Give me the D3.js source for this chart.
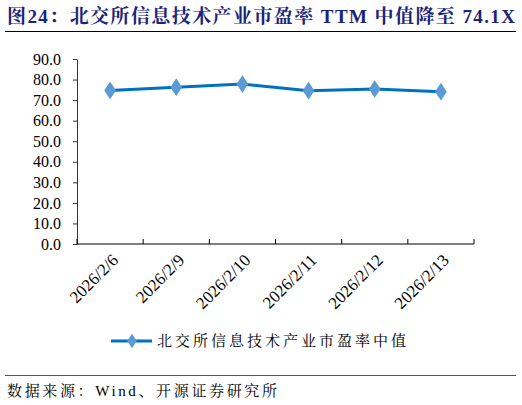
<!DOCTYPE html>
<html>
<head>
<meta charset="utf-8">
<script src="https://cdn.jsdelivr.net/npm/d3@7"></script>
<style>
  body { margin: 0; background: #fff; }
</style>
</head>
<body>
<div class="main"></div>
<script>
// Données
const dates = ['2026/2/6', '2026/2/9', '2026/2/10', '2026/2/11', '2026/2/12', '2026/2/13'];
const valeurs = [74.7, 76.3, 77.8, 74.6, 75.4, 74.1];
const yTicks = [0, 10, 20, 30, 40, 50, 60, 70, 80, 90];
const titre = '图24：北交所信息技术产业市盈率 TTM 中值降至 74.1X';
const serie = '北交所信息技术产业市盈率中值';
const source = '数据来源：Wind、开源证券研究所';

const width = 522;
const height = 405;
const margin = { top: 59, right: 48, bottom: 161, left: 77 };

const serif = "'Liberation Serif', 'Times New Roman', serif";
const cjk = "'Noto Serif CJK SC', 'Noto Sans CJK SC', serif";

const svg = d3.select('.main')
  .append('svg')
  .attr('width', width)
  .attr('height', height)
  .style('font-family', serif);

// Titre
svg.append('text')
  .attr('x', 7)
  .attr('y', 23)
  .attr('textLength', 508)
  .attr('lengthAdjust', 'spacing')
  .style('font-family', `${serif}, ${cjk}`)
  .style('font-weight', 'bold')
  .style('font-size', '19px')
  .style('fill', '#1B237A')
  .text(titre);

svg.append('line')
  .attr('x1', 5).attr('x2', 516)
  .attr('y1', 31.5).attr('y2', 31.5)
  .attr('stroke', '#000').attr('stroke-width', 1);

// Échelles
const x = d3.scaleBand()
  .domain(dates)
  .range([margin.left, width - margin.right]);

const y = d3.scaleLinear()
  .domain([0, 90])
  .range([height - margin.bottom, margin.top]);

// Axe vertical
svg.append('g')
  .attr('transform', `translate(${margin.left}, 0)`)
  .call(d3.axisLeft(y).tickValues(yTicks).tickSize(4).tickSizeOuter(0).tickPadding(12).tickFormat(d3.format('.1f')))
  .call(g => g.selectAll('text').style('font-size', '16px').style('font-family', serif).attr('fill', '#000'))
  .call(g => g.selectAll('line,path').attr('stroke', '#333'));

// Axe horizontal
const xAxis = svg.append('g')
  .attr('transform', `translate(0, ${y(0)})`);

xAxis.append('line')
  .attr('x1', margin.left).attr('x2', width - margin.right)
  .attr('stroke', '#000');

xAxis.selectAll('.tick')
  .data(dates.concat(['fin']))
  .enter()
  .append('line')
  .attr('x1', d => d === 'fin' ? width - margin.right : x(d))
  .attr('x2', d => d === 'fin' ? width - margin.right : x(d))
  .attr('y1', 0).attr('y2', -5)
  .attr('stroke', '#000');

xAxis.selectAll('text')
  .data(dates)
  .enter()
  .append('text')
  .attr('transform', d => `translate(${x(d) + x.bandwidth() / 2 + 5}, 13) rotate(-45)`)
  .attr('text-anchor', 'end')
  .attr('dy', '0.35em')
  .style('font-size', '17px')
  .text(d => d);

// Ligne
const ligne = d3.line()
  .x((d, i) => x(dates[i]) + x.bandwidth() / 2)
  .y(d => y(d));

svg.append('path')
  .datum(valeurs)
  .attr('fill', 'none')
  .attr('stroke', '#0070C0')
  .attr('stroke-width', 3)
  .attr('d', ligne);

const diamant = d3.symbol().type(d3.symbolDiamond).size(90);

svg.append('g')
  .selectAll('path')
  .data(valeurs)
  .enter()
  .append('path')
  .attr('d', diamant)
  .attr('transform', (d, i) => `translate(${x(dates[i]) + x.bandwidth() / 2}, ${y(d)}) scale(1.15, 1)`)
  .attr('fill', '#5B9BD5');

// Légende
const leg = svg.append('g').attr('transform', 'translate(0, 341)');
leg.append('line')
  .attr('x1', 111).attr('x2', 152)
  .attr('stroke', '#0070C0').attr('stroke-width', 3);
leg.append('path')
  .attr('d', d3.symbol().type(d3.symbolDiamond).size(60))
  .attr('transform', 'translate(132, 0) scale(1.15, 1)')
  .attr('fill', '#5B9BD5');
leg.append('text')
  .attr('x', 157)
  .attr('dy', '0.35em')
  .attr('textLength', 249)
  .attr('lengthAdjust', 'spacing')
  .style('font-family', cjk)
  .style('font-size', '15px')
  .attr('fill', '#000')
  .text(serie);

// Source
svg.append('line')
  .attr('x1', 5).attr('x2', 516)
  .attr('y1', 375.5).attr('y2', 375.5)
  .attr('stroke', '#555').attr('stroke-width', 1);

svg.append('text')
  .attr('x', 7)
  .attr('y', 396)
  .attr('textLength', 270)
  .attr('lengthAdjust', 'spacing')
  .style('font-family', `${serif}, ${cjk}`)
  .style('font-size', '15px')
  .attr('fill', '#000')
  .text(source);
</script>
</body>
</html>
